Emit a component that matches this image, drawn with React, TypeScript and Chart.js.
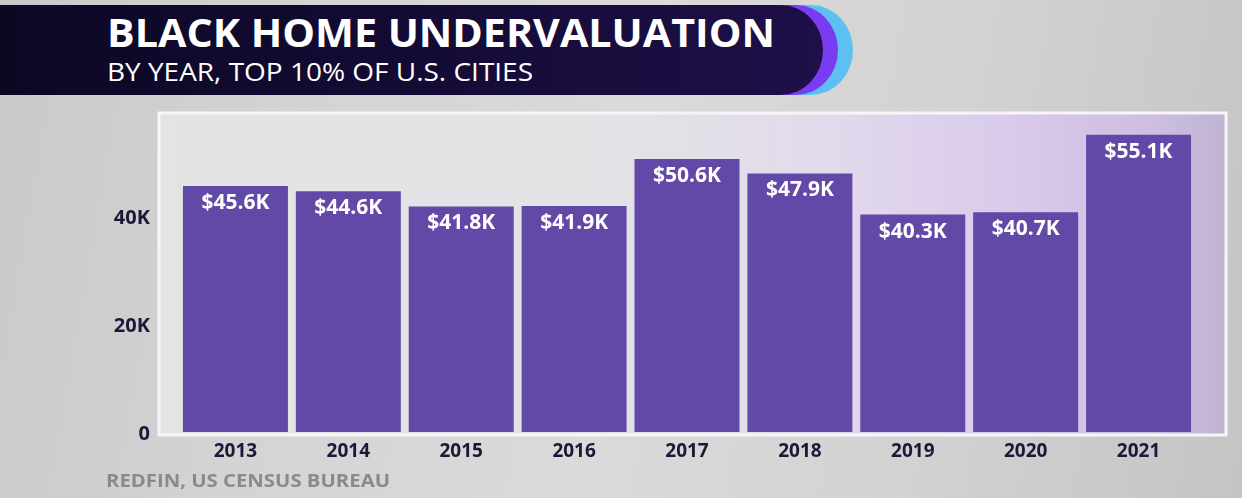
import React, { useEffect, useLayoutEffect, useRef } from "react";
import { Chart, registerables } from "chart.js";

Chart.register(...registerables);

const years = ["2013", "2014", "2015", "2016", "2017", "2018", "2019", "2020", "2021"];
const values = [45600, 44600, 41800, 41900, 50600, 47900, 40300, 40700, 55100];
const valueLabels = ["$45.6K", "$44.6K", "$41.8K", "$41.9K", "$50.6K", "$47.9K", "$40.3K", "$40.7K", "$55.1K"];
const yTicks = [0, 20000, 40000];
const yTickLabels = ["0", "20K", "40K"];
const title = "BLACK HOME UNDERVALUATION";
const subtitle = "BY YEAR, TOP 10% OF U.S. CITIES";
const source = "REDFIN, US CENSUS BUREAU";

const W = 1242;
const H = 498;
const FONT = "'Open Sans', 'Noto Sans', sans-serif";

function FitText(props: { text: string; width: number; style: React.CSSProperties }) {
  const ref = useRef<HTMLSpanElement | null>(null);
  useLayoutEffect(() => {
    const fit = () => {
      const el = ref.current;
      if (!el) return;
      el.style.transform = "none";
      const w = el.getBoundingClientRect().width;
      if (w > 0) el.style.transform = `scaleX(${props.width / w})`;
    };
    fit();
    if ((document as any).fonts && (document as any).fonts.ready) {
      (document as any).fonts.ready.then(fit);
    }
  }, [props.text, props.width]);
  return (
    <span
      ref={ref}
      style={{
        position: "absolute",
        display: "inline-block",
        whiteSpace: "nowrap",
        transformOrigin: "left top",
        lineHeight: 1,
        ...props.style,
      }}
    >
      {props.text}
    </span>
  );
}

const panelPlugin = {
  id: "panel",
  beforeDraw(chart: any) {
    const { ctx, chartArea } = chart;
    const l = chartArea.left - 20;
    const r = chartArea.right + 31;
    const t = chartArea.top - 6;
    const b = chartArea.bottom + 3;
    ctx.save();
    const g = ctx.createLinearGradient(l, 0, r, 0);
    g.addColorStop(0, "#e4e4e4");
    g.addColorStop(0.45, "#e3e2e6");
    g.addColorStop(0.62, "#e2daec");
    g.addColorStop(0.8, "#d9caeb");
    g.addColorStop(0.93, "#cdbee2");
    g.addColorStop(1, "#bfb3d4");
    ctx.fillStyle = g;
    ctx.fillRect(l, t, r - l, b - t);
    ctx.strokeStyle = "#f6f6f8";
    ctx.lineWidth = 3;
    ctx.strokeRect(l, t, r - l, b - t);
    ctx.restore();
  },
};

const valueLabelPlugin = {
  id: "valueLabels",
  afterDatasetsDraw(chart: any) {
    const { ctx } = chart;
    const meta = chart.getDatasetMeta(0);
    ctx.save();
    ctx.fillStyle = "#ffffff";
    ctx.font = `700 21px ${FONT}`;
    ctx.textAlign = "center";
    ctx.textBaseline = "middle";
    meta.data.forEach((bar: any, i: number) => {
      ctx.fillText(valueLabels[i], bar.x, bar.y + 17);
    });
    ctx.restore();
  },
};

export default function App() {
  const canvasRef = useRef<HTMLCanvasElement | null>(null);

  useEffect(() => {
    document.body.style.margin = "0";
    const canvas = canvasRef.current;
    if (!canvas) return;
    const chart = new Chart(canvas, {
      type: "bar",
      data: {
        labels: years,
        datasets: [
          {
            data: values,
            backgroundColor: "#6349a7",
            borderWidth: 0,
            barPercentage: 0.93,
            categoryPercentage: 1,
          },
        ],
      },
      options: {
        responsive: false,
        animation: false,
        layout: { padding: { top: 119, right: 47, bottom: 18, left: 0 } },
        plugins: {
          legend: { display: false },
          tooltip: { enabled: false },
        },
        scales: {
          x: {
            grid: { display: false, drawTicks: false },
            border: { display: false },
            ticks: {
              color: "#1d1838",
              font: { family: FONT, size: 19, weight: "bold" },
              padding: 8,
            },
            afterFit(scale: any) {
              scale.height = 48;
            },
          },
          y: {
            min: 0,
            max: 58000,
            grid: { display: false, drawTicks: false },
            border: { display: false },
            afterBuildTicks(scale: any) {
              scale.ticks = yTicks.map((v) => ({ value: v }));
            },
            ticks: {
              color: "#1d1838",
              font: { family: FONT, size: 20, weight: "bold" },
              padding: 29,
              labelOffset: 2,
              callback: (v: any) => {
                const i = yTicks.indexOf(Number(v));
                return i >= 0 ? yTickLabels[i] : "";
              },
            },
            afterFit(scale: any) {
              scale.width = 179;
            },
          },
        },
      },
      plugins: [panelPlugin, valueLabelPlugin],
    });
    return () => chart.destroy();
  }, []);

  return (
    <div
      style={{
        position: "fixed",
        left: 0,
        top: 0,
        width: W,
        height: H,
        overflow: "hidden",
        background:
          "linear-gradient(100deg, #c9c9c9 0%, #d4d4d4 25%, #dadada 50%, #d2d2d2 75%, #c4c4c4 100%)",
        fontFamily: FONT,
      }}
    >
      <div
        style={{
          position: "absolute",
          left: 0,
          top: 5,
          width: 853,
          height: 90,
          background: "#5cc0f2",
          borderRadius: "0 42px 42px 0 / 0 50% 50% 0",
        }}
      />
      <div
        style={{
          position: "absolute",
          left: 0,
          top: 5,
          width: 838,
          height: 90,
          background: "#7a3cf0",
          borderRadius: "0 42px 42px 0 / 0 50% 50% 0",
        }}
      />
      <div
        style={{
          position: "absolute",
          left: 0,
          top: 5,
          width: 823,
          height: 90,
          background: "linear-gradient(90deg, #0b0824 0%, #140b34 50%, #1e0f48 100%)",
          borderRadius: "0 42px 42px 0 / 0 50% 50% 0",
        }}
      />
      <FitText
        text={title}
        width={668}
        style={{ left: 107, top: 12, fontSize: 39, fontWeight: 700, color: "#ffffff" }}
      />
      <FitText
        text={subtitle}
        width={426}
        style={{ left: 107, top: 59, fontSize: 25, fontWeight: 500, color: "#ffffff" }}
      />
      <canvas
        ref={canvasRef}
        width={W}
        height={H}
        style={{ position: "absolute", left: 0, top: 0, width: W, height: H }}
      />
      <FitText
        text={source}
        width={284}
        style={{ left: 106, top: 472, fontSize: 17, fontWeight: 700, color: "#8a8a8a" }}
      />
    </div>
  );
}
